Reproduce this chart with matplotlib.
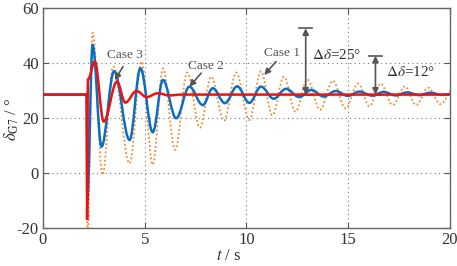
import matplotlib
matplotlib.use("Agg")
import matplotlib.pyplot as plt
from matplotlib.path import Path
from matplotlib.patches import PathPatch

plt.rcParams['font.family'] = ['Liberation Serif', 'DejaVu Serif']
plt.rcParams['mathtext.fontset'] = 'stix'
plt.rcParams['axes.unicode_minus'] = False

# extrema (time s, angle deg)
t_case1 = [0, 2.15, 2.19, 2.44, 2.93, 3.45, 4.26, 4.85, 5.4, 5.9, 6.5, 7.09, 7.72, 8.27, 8.9, 9.5,
           10.15, 10.72, 11.28, 11.85, 12.42, 13.0, 13.62, 14.25, 14.88, 15.5, 16.05, 16.6, 17.2,
           17.8, 18.35, 18.95, 19.55, 20.2]
v_case1 = [28.5, 28.5, -25, 51, -0.7, 38.7, 3.5, 40.5, 3.0, 38, 8.4, 36.5, 16.5, 35, 19, 36.5,
           19.3, 37, 21, 35, 22.3, 34, 23, 33.5, 23.5, 32.5, 24.3, 32.5, 24.7, 31.5, 24.7, 31, 25, 31]

t_case2 = [0, 2.15, 2.18, 2.44, 2.88, 3.5, 4.26, 4.79, 5.4, 5.9, 6.55, 7.2, 7.86, 8.35, 8.95, 9.55,
           10.15, 10.72, 11.35, 11.95, 12.6, 13.2, 13.8, 14.4, 15.0, 15.55, 16.2, 16.75, 17.35,
           17.9, 18.5, 19.05, 19.6, 20.2]
v_case2 = [28.5, 28.5, -10, 46.5, 9.6, 37, 12, 38.1, 14.8, 33.8, 19.9, 31.4, 24.7, 30.8, 25.4, 31.5,
           25.5, 31.4, 27, 30.6, 27.6, 30.2, 27.8, 29.8, 28.0, 29.6, 28.1, 29.5, 28.2, 29.3, 28.3,
           29.2, 28.4, 28.8]

t_case3 = [0, 2.15, 2.17, 2.21, 2.55, 2.99, 3.64, 4.05, 4.6, 5.1, 5.65, 6.2, 6.8, 20]
v_case3 = [28.5, 28.5, -17, 34, 40.5, 18.7, 33.2, 25.6, 29.8, 27.6, 29, 28.2, 28.5, 28.5]

x_ticks = [0, 5, 10, 15, 20]
y_ticks = [-20, 0, 20, 40, 60]


def smooth_path(ts, vs):
    verts = [(ts[0], vs[0])]
    codes = [Path.MOVETO]
    for i in range(1, len(ts)):
        t0, v0, t1, v1 = ts[i - 1], vs[i - 1], ts[i], vs[i]
        d = (t1 - t0) * 0.364
        verts += [(t0 + d, v0), (t1 - d, v1), (t1, v1)]
        codes += [Path.CURVE4] * 3
    return Path(verts, codes)


fig = plt.figure(figsize=(4.57, 2.66), dpi=100)
ax = fig.add_axes([0.094, 0.143, 0.890, 0.827])

ax.add_patch(PathPatch(smooth_path(t_case1, v_case1), fill=False, edgecolor='#F28A30',
                       lw=1.3, linestyle=(0, (1, 1.3)), zorder=2))
ax.add_patch(PathPatch(smooth_path(t_case2, v_case2), fill=False, edgecolor='#0A6FC0',
                       lw=1.8, zorder=3))
ax.add_patch(PathPatch(smooth_path(t_case3, v_case3), fill=False, edgecolor='#F01010',
                       lw=1.8, zorder=4))

ax.set_xlim(0, 20)
ax.set_ylim(-20, 60)
ax.set_xticks(x_ticks)
ax.set_yticks(y_ticks)
ax.grid(True, linestyle=(0, (1, 3)), color='#777777', lw=0.8)
ax.tick_params(direction='in', top=True, right=True, length=4, labelsize=12,
               colors='#555555', labelcolor='#333333', pad=3)
for s in ax.spines.values():
    s.set_color('#666666')
    s.set_linewidth(1.0)

fig.text(0.5, 0.036, r"$t$ / s", fontsize=12, color='#333333', ha='center', va='center')
fig.text(0.026, 0.55, r"$\delta_{\mathrm{G7}}$ / °", fontsize=12, color='#333333',
         ha='center', va='center', rotation=90)

gray = '#555555'
arrow = dict(arrowstyle='-|>', color=gray, lw=1.2, mutation_scale=9, shrinkA=0, shrinkB=0)
ax.text(4.04, 42.9, "Case 3", fontsize=9.5, color=gray, ha='center', va='center')
ax.annotate('', xy=(3.53, 33.8), xytext=(3.94, 38.7), arrowprops=arrow)
ax.text(8.01, 39.0, "Case 2", fontsize=9.5, color=gray, ha='center', va='center')
ax.annotate('', xy=(7.2, 31.4), xytext=(7.78, 36.3), arrowprops=arrow)
ax.text(11.74, 43.8, "Case 1", fontsize=9.5, color=gray, ha='center', va='center')
ax.annotate('', xy=(10.88, 35.6), xytext=(11.46, 40.5), arrowprops=arrow)

darrow = dict(arrowstyle='<|-|>', color=gray, lw=1.2, mutation_scale=9, shrinkA=0, shrinkB=0)
for tx, top in [(12.92, 52.6), (16.35, 42.6)]:
    ax.annotate('', xy=(tx, top), xytext=(tx, 28.5), arrowprops=darrow)
    ax.plot([tx - 0.32, tx + 0.32], [top, top], color=gray, lw=1.2)
    ax.plot([tx - 0.32, tx + 0.32], [28.5, 28.5], color=gray, lw=1.2)
ax.text(13.24, 42.9, r"$\Delta\delta$=25°", fontsize=11, color='#333333', ha='left', va='center')
ax.text(16.86, 36.7, r"$\Delta\delta$=12°", fontsize=11, color='#333333', ha='left', va='center')

fig.savefig("out.png", dpi=100)
